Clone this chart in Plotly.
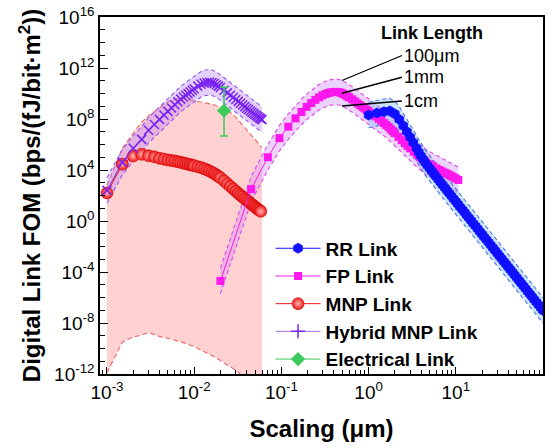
import math
import plotly.graph_objects as go

# ---------------- data (FOM values stored as powers of ten) ----------------
# MNP Link
mnp_x = [0.001, 0.0015, 0.002, 0.0025, 0.003, 0.0035, 0.004, 0.0045, 0.005, 0.0055,
         0.006, 0.0065, 0.007, 0.0075, 0.008, 0.0085, 0.009, 0.0095, 0.010,
         0.011, 0.012, 0.013, 0.014, 0.015, 0.016, 0.017, 0.018, 0.019, 0.020,
         0.022, 0.024, 0.026, 0.028, 0.030, 0.032, 0.034, 0.036, 0.038, 0.040,
         0.042, 0.044, 0.046, 0.048, 0.050, 0.052, 0.054, 0.056, 0.058]
mnp_exp = [2.2, 4.45, 5.1, 5.23, 5.12, 5.03, 4.92, 4.85, 4.79, 4.74,
           4.70, 4.65, 4.60, 4.55, 4.50, 4.46, 4.42, 4.38, 4.34,
           4.26, 4.19, 4.10, 4.01, 3.92, 3.82, 3.72, 3.61, 3.50, 3.39,
           3.15, 2.93, 2.72, 2.52, 2.34, 2.17, 2.02, 1.88, 1.75, 1.63,
           1.51, 1.40, 1.29, 1.19, 1.09, 1.00, 0.92, 0.84, 0.76]

# MNP design-space region (shaded)
reg_x = [0.001, 0.0015, 0.002, 0.0025, 0.003, 0.004, 0.005, 0.006, 0.007, 0.008,
         0.010, 0.013, 0.016, 0.020, 0.024, 0.030, 0.040, 0.050, 0.060]
reg_hi_exp = [2.8, 5.7, 6.9, 7.75, 8.25, 8.9, 9.35, 9.58, 9.62, 9.58,
              9.45, 9.3, 9.15, 8.95, 8.7, 8.15, 7.15, 6.4, 5.75]
reg_lo_exp = [-11.9, -9.5, -9.1, -8.95, -8.75, -9.05, -9.2, -9.33, -9.48, -9.6,
              -9.85, -10.25, -10.55, -10.95, -11.3, -11.7, -12.4, -13.0, -13.5]

# Hybrid MNP Link
hyb_x = [0.001, 0.0015, 0.002, 0.0025, 0.003, 0.0035, 0.004, 0.0045, 0.005, 0.0055,
         0.006, 0.0065, 0.007, 0.0075, 0.008, 0.0085, 0.009, 0.0095, 0.010,
         0.011, 0.012, 0.013, 0.014, 0.015, 0.016, 0.017, 0.018, 0.019, 0.020,
         0.022, 0.024, 0.026, 0.028, 0.030, 0.032, 0.034, 0.036, 0.038, 0.040,
         0.042, 0.044, 0.046, 0.048, 0.050, 0.052, 0.054, 0.056, 0.058, 0.060]
hyb_exp = [2.4, 4.6, 5.70, 6.40, 7.12, 7.57, 7.97, 8.32, 8.60, 8.87,
           9.12, 9.36, 9.56, 9.72, 9.86, 9.99, 10.12, 10.25, 10.37,
           10.58, 10.72, 10.82, 10.87, 10.88, 10.85, 10.78, 10.69, 10.58, 10.47,
           10.25, 10.05, 9.86, 9.69, 9.53, 9.38, 9.24, 9.10, 8.97, 8.85,
           8.74, 8.63, 8.53, 8.43, 8.34, 8.25, 8.17, 8.09, 8.02, 7.95]

# FP Link
fp_x = [0.02, 0.045, 0.07, 0.095, 0.12, 0.145, 0.17, 0.195, 0.22, 0.245,
        0.27, 0.295, 0.32, 0.345, 0.37, 0.395, 0.42, 0.445, 0.47, 0.495,
        0.52, 0.545, 0.57, 0.6, 0.65, 0.7, 0.75, 0.8, 0.85, 0.9,
        0.95, 1.0, 1.1, 1.2, 1.3, 1.4, 1.5, 1.6, 1.7, 1.8,
        1.9, 2.0, 2.2, 2.4, 2.6, 2.8, 3.0, 3.3, 3.6, 3.9,
        4.2, 4.5, 5.0, 5.5, 6.0, 6.5, 7.0, 7.5, 8.0, 8.5,
        9.0, 9.5, 10.0, 10.7]
fp_exp = [-4.7, 2.5, 5.0, 6.5, 7.4, 8.05, 8.55, 8.95, 9.25, 9.5,
          9.7, 9.85, 9.96, 10.04, 10.09, 10.12, 10.13, 10.12, 10.08, 10.02,
          9.95, 9.87, 9.78, 9.69, 9.54, 9.38, 9.22, 9.08, 8.95, 8.83,
          8.71, 8.6, 8.40, 8.21, 8.02, 7.85, 7.68, 7.53, 7.37, 7.2,
          7.04, 6.89, 6.6, 6.34, 6.10, 5.89, 5.70, 5.43, 5.21, 5.0,
          4.81, 4.65, 4.45, 4.29, 4.13, 4.0, 3.88, 3.78, 3.69, 3.59,
          3.5, 3.41, 3.33, 3.22]

# RR Link
rr_x = [1.0, 1.25, 1.5, 1.75, 2.0, 2.25, 2.5, 2.75, 3.0, 3.25,
        3.55, 3.76, 3.98, 4.22, 4.47, 4.73, 5.01, 5.31, 5.62, 5.96,
        6.31, 6.68, 7.08, 7.5, 7.94, 8.41, 8.91, 9.44, 10.0, 10.6,
        11.2, 11.9, 12.6, 13.3, 14.1, 15.0, 15.8, 16.8, 17.8, 18.8,
        20.0, 21.1, 22.4, 23.7, 25.1, 26.6, 28.2, 29.9, 31.6, 33.5,
        35.5, 37.6, 39.8, 42.2, 44.7, 47.3, 50.1, 53.1, 56.2, 59.6,
        63.1, 66.8, 70.8, 75.0, 79.4, 84.1, 89.1, 94.4, 100.0]
rr_exp = [8.31, 8.47, 8.57, 8.63, 8.4, 7.97, 7.47, 7.0, 6.57, 6.16,
          5.7, 5.39, 5.1, 4.84, 4.58, 4.36, 4.13, 3.91, 3.69, 3.47,
          3.25, 3.03, 2.82, 2.6, 2.38, 2.17, 1.96, 1.74, 1.53, 1.32,
          1.10, 0.89, 0.68, 0.46, 0.25, 0.03, -0.18, -0.39, -0.6, -0.82,
          -1.03, -1.25, -1.46, -1.67, -1.89, -2.10, -2.31, -2.53, -2.74, -2.95,
          -3.17, -3.38, -3.6, -3.81, -4.02, -4.24, -4.45, -4.66, -4.88, -5.09,
          -5.3, -5.52, -5.73, -5.94, -6.16, -6.37, -6.58, -6.8, -7.01]

# Electrical Link
elec_x = [0.022]
elec_exp = [8.65]
elec_hi_exp = [10.5]
elec_lo_exp = [6.67]

# Link-length variants: FOM relative to the 1 mm link
link_labels = ["100\u03bcm", "1mm", "1cm"]
link_factor = [10.0, 1.0, 0.1]
label_at_x = 0.495  # FP point the labels point to

x_tick_vals = [1e-3, 1e-2, 1e-1, 1e0, 1e1, 1e2]
x_tick_text = ["10<sup>-3</sup>", "10<sup>-2</sup>", "10<sup>-1</sup>",
               "10<sup>0</sup>", "10<sup>1</sup>", "10<sup>2</sup>"]
y_tick_vals = [1e-12, 1e-8, 1e-4, 1e0, 1e4, 1e8, 1e12, 1e16]
y_tick_text = ["10<sup>-12</sup>", "10<sup>-8</sup>", "10<sup>-4</sup>", "10<sup>0</sup>",
               "10<sup>4</sup>", "10<sup>8</sup>", "10<sup>12</sup>", "10<sup>16</sup>"]

# ---------------- helpers ----------------
def p10(arr):
    return [10.0 ** v for v in arr]

FONT = "Liberation Sans, Arial, Helvetica, sans-serif"
C_RR, C_FP, C_MNP, C_HYB, C_EL = "#1010ff", "#ff18ee", "#f01818", "#7a24f2", "#3ccb5a"

mnp_y, hyb_y, fp_y, rr_y = p10(mnp_exp), p10(hyb_exp), p10(fp_exp), p10(rr_exp)

fig = go.Figure()

# shaded MNP region
fig.add_trace(go.Scatter(x=reg_x, y=p10(reg_lo_exp), mode="lines",
                         line=dict(color="#f07070", width=1.2, dash="5px,3px"),
                         showlegend=False, hoverinfo="skip"))
fig.add_trace(go.Scatter(x=reg_x, y=p10(reg_hi_exp), mode="lines", fill="tonexty",
                         fillcolor="rgba(255,185,185,0.65)",
                         line=dict(color="#f07070", width=1.2, dash="5px,3px"),
                         showlegend=False, hoverinfo="skip"))


def add_band(xs, ys, fill, edge):
    lo = [v * link_factor[2] for v in ys]
    hi = [v * link_factor[0] for v in ys]
    fig.add_trace(go.Scatter(x=xs, y=lo, mode="lines",
                             line=dict(color=edge, width=1.1, dash="4px,3px"),
                             showlegend=False, hoverinfo="skip"))
    fig.add_trace(go.Scatter(x=xs, y=hi, mode="lines", fill="tonexty", fillcolor=fill,
                             line=dict(color=edge, width=1.1, dash="4px,3px"),
                             showlegend=False, hoverinfo="skip"))


add_band(hyb_x, hyb_y, "rgba(175,120,250,0.35)", "#9458f0")
add_band(fp_x, fp_y, "rgba(205,140,250,0.38)", "#e048e8")
add_band(rr_x, rr_y, "rgba(140,195,240,0.45)", "#4a78e8")

# data series
fig.add_trace(go.Scatter(x=mnp_x, y=mnp_y, mode="lines+markers", name="MNP Link",
                         legendrank=3,
                         line=dict(color=C_MNP, width=1),
                         marker=dict(symbol="circle", size=12, color=C_MNP,
                                     gradient=dict(type="radial", color="#ffb4b4"),
                                     line=dict(color="#d00000", width=0.6))))
fig.add_trace(go.Scatter(x=hyb_x, y=hyb_y, mode="lines+markers", name="Hybrid MNP Link",
                         showlegend=False,
                         line=dict(color=C_HYB, width=1),
                         marker=dict(symbol="x-thin-open", size=9, color=C_HYB,
                                     line=dict(width=1.5, color=C_HYB))))
fig.add_trace(go.Scatter(x=[None], y=[None], mode="lines+markers", name="Hybrid MNP Link",
                         legendrank=4,
                         line=dict(color="#a070f0", width=1),
                         marker=dict(symbol="cross-thin-open", size=10, color=C_HYB,
                                     line=dict(width=1.5, color=C_HYB))))
fig.add_trace(go.Scatter(x=fp_x, y=fp_y, mode="lines+markers", name="FP Link",
                         legendrank=2,
                         line=dict(color=C_FP, width=1),
                         marker=dict(symbol="square", size=8, color=C_FP)))
fig.add_trace(go.Scatter(x=rr_x, y=rr_y, mode="lines+markers", name="RR Link",
                         legendrank=1,
                         line=dict(color=C_RR, width=1),
                         marker=dict(symbol="hexagon", size=10, color=C_RR,
                                     line=dict(color=C_RR, width=0.8))))
ey = p10(elec_exp)
fig.add_trace(go.Scatter(x=elec_x, y=ey, mode="lines+markers", name="Electrical Link",
                         legendrank=5,
                         line=dict(color=C_EL, width=1),
                         marker=dict(symbol="diamond", size=11, color=C_EL),
                         error_y=dict(type="data", symmetric=False,
                                      array=[h - v for h, v in zip(p10(elec_hi_exp), ey)],
                                      arrayminus=[v - l for l, v in zip(p10(elec_lo_exp), ey)],
                                      color=C_EL, thickness=1.5, width=4)))

# link-length annotations
idx = fp_x.index(label_at_x)
ann_off = [(60, -25), (60, -16), (60, -5)]
annotations = [dict(text="<b>Link Length</b>", xref="paper", yref="paper", x=0.749, y=0.955,
                    xanchor="center", yanchor="middle",
                    showarrow=False, font=dict(size=18, family=FONT, color="black"))]
for lab, fac, (axp, ayp) in zip(link_labels, link_factor, ann_off):
    annotations.append(dict(text=lab, x=math.log10(label_at_x),
                            y=math.log10(fp_y[idx] * fac),
                            xref="x", yref="y", showarrow=True, arrowhead=0,
                            arrowwidth=1.3, arrowcolor="black", ax=axp, ay=ayp,
                            axref="pixel", ayref="pixel", xanchor="left",
                            font=dict(size=18, family=FONT, color="black")))

x_minor = [k * 10.0 ** n for n in range(-4, 2) for k in range(2, 10)
           if -3.08 <= math.log10(k * 10.0 ** n) <= 2]
y_minor = [10.0 ** n for n in range(-12, 17) if n % 4 != 0]

axis_common = dict(type="log", showline=True, linewidth=1.5, linecolor="black", mirror=True,
                   showgrid=False, zeroline=False, ticks="inside", tickwidth=1.3,
                   tickcolor="black", tickmode="array", automargin=False,
                   tickfont=dict(size=19, family=FONT, color="black"))

fig.update_xaxes(**axis_common, range=[-3.08, 2.0], tickvals=x_tick_vals, ticktext=x_tick_text,
                 ticklen=7,
                 minor=dict(tickmode="array", tickvals=x_minor, ticks="inside", ticklen=4,
                            tickwidth=1.1, tickcolor="black", showgrid=False),
                 title=dict(text="Scaling (\u03bcm)", standoff=19,
                            font=dict(size=24, family=FONT, weight="bold", color="black")))
fig.update_yaxes(**axis_common, range=[-12, 16], tickvals=y_tick_vals, ticktext=y_tick_text,
                 ticklen=8,
                 minor=dict(tickmode="array", tickvals=y_minor, ticks="inside", ticklen=5,
                            tickwidth=1.1, tickcolor="black", showgrid=False),
                 title=dict(text="Digital Link FOM (bps/(fJ/bit\u00b7m<sup>2</sup>))", standoff=7,
                            font=dict(size=24, family=FONT, weight="bold", color="black")))

fig.update_layout(width=557, height=448, margin=dict(l=100, r=14, t=17, b=74),
                  plot_bgcolor="white", paper_bgcolor="white",
                  font=dict(family=FONT, size=19, color="black"),
                  annotations=annotations,
                  legend=dict(x=0.385, y=0.405, xanchor="left", yanchor="top",
                              traceorder="normal",
                              bgcolor="rgba(0,0,0,0)", itemwidth=45, tracegroupgap=0,
                              font=dict(size=19, family=FONT, weight="bold", color="black")))

fig.write_html("out.html", config={"displayModeBar": False},
               post_script="document.body.style.margin='0px';")
